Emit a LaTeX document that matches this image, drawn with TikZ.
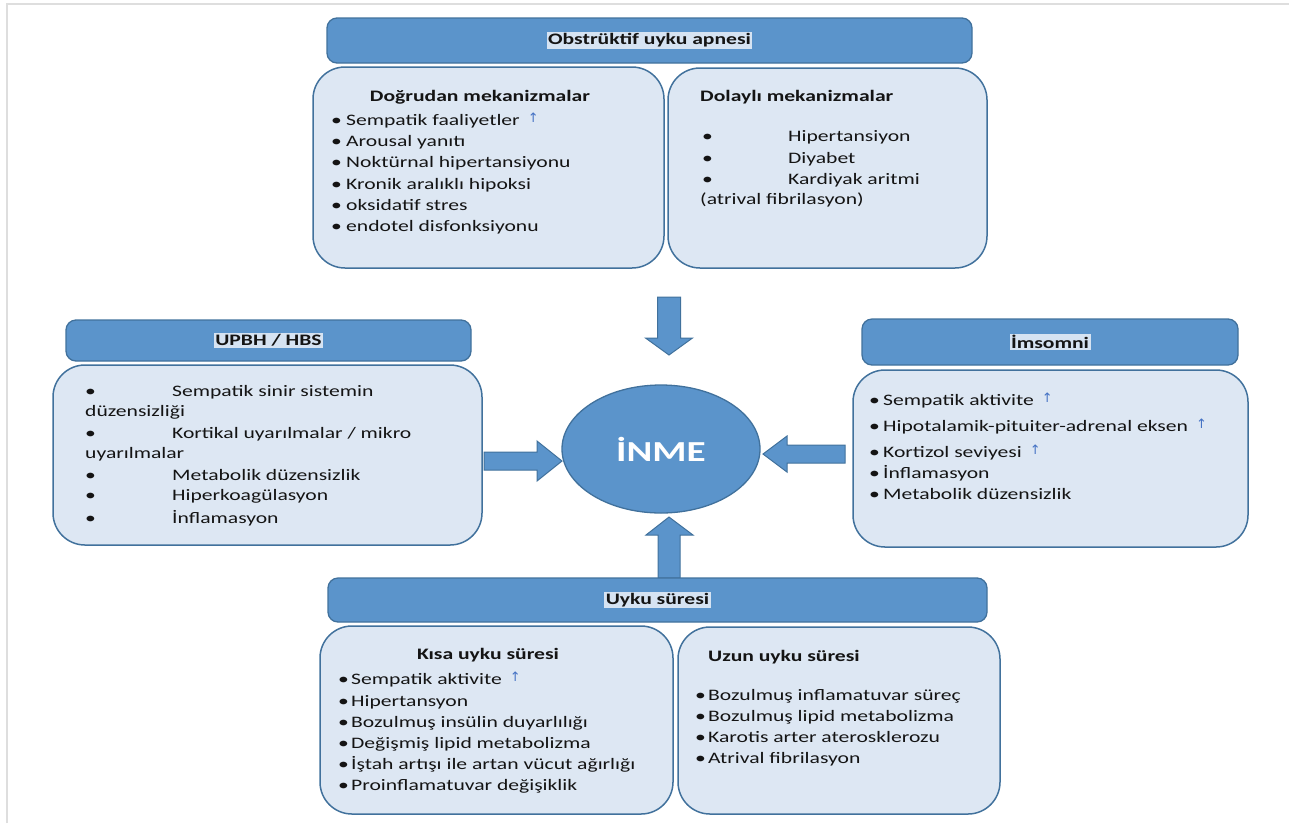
\documentclass[tikz,border=0pt]{standalone}
\usepackage{fontspec}
\setmainfont[FakeStretch=1.35]{Carlito}
\newfontfamily\symfont{DejaVu Sans}
\usetikzlibrary{shapes.geometric,fit}
\definecolor{hdrblue}{RGB}{91,148,203}
\definecolor{edgeblue}{RGB}{65,113,156}
\definecolor{bodyfill}{RGB}{221,231,243}
\definecolor{hlfill}{RGB}{214,227,242}
\definecolor{uparrowc}{RGB}{68,114,196}
\definecolor{pageline}{RGB}{222,222,222}
\definecolor{txt}{RGB}{20,20,20}
\newcommand\uparr{\hspace{8pt}\raisebox{3pt}{\symfont\fontsize{13}{13}\selectfont\color{uparrowc}↑}}
\newcommand\itm[5]{\node[item] (#1) at (#2,#3) {\makebox[#4pt][l]{\textbullet}#5};}
\tikzset{
  hdr/.style={draw=edgeblue, line width=1.3pt, fill=hdrblue, rounded corners=10pt, inner sep=0pt},
  bodybox/.style={draw=edgeblue, line width=1.5pt, fill=bodyfill, rounded corners=32pt, inner sep=0pt},
  item/.style={anchor=base west, inner sep=0pt, font=\fontsize{16}{19}\selectfont, text=txt},
  plain/.style={anchor=base west, inner sep=0pt, font=\fontsize{16}{19}\selectfont, text=txt},
  ttl/.style={anchor=base, inner sep=0pt, font=\fontsize{16}{19}\selectfont\bfseries, text=txt},
  ttlw/.style={anchor=base west, inner sep=0pt, font=\fontsize{16}{19}\selectfont\bfseries, text=txt},
  hdrtext/.style={fill=hlfill, inner sep=1.5pt, font=\fontsize{16}{19}\selectfont\bfseries, text=txt},
  blockarrow/.style={fill=hdrblue, draw=edgeblue, line width=1pt, line join=miter},
}
\begin{document}
\begin{tikzpicture}[x=1pt,y=-1pt]
\useasboundingbox (0,0) rectangle (1289,823);
\draw[pageline, line width=1.5pt] (7,823) -- (7,4) -- (1289,4);

% central node
\node[ellipse, fill=hdrblue, draw=edgeblue, line width=1.3pt, minimum width=198pt, minimum height=128pt, inner sep=0pt,
      text=white, font=\fontsize{29}{30}\selectfont\bfseries] (inme) at (661,449) {İNME};

% block arrows
\draw[blockarrow] (657.5,297) -- (680.5,297) -- (680.5,338) -- (692.5,338) -- (669,355) -- (645.5,338) -- (657.5,338) -- cycle;
\draw[blockarrow] (658,578) -- (680,578) -- (680,535) -- (693,535) -- (669,517) -- (646,535) -- (658,535) -- cycle;
\draw[blockarrow] (484,452) -- (537,452) -- (537,441) -- (562,461) -- (537,481) -- (537,470) -- (484,470) -- cycle;
\draw[blockarrow] (845,445) -- (787,445) -- (787,436) -- (763,454) -- (787,472) -- (787,463) -- (845,463) -- cycle;

% Obstruktif uyku apnesi
\node[hdr, fit={(327,18) (972,63)}] (oua) {};
\node[hdrtext] (ouat) at (oua.center) {Obstrüktif uyku apnesi};
\node[bodybox, fit={(313,67) (664,268)}] (dm) {};
\node[bodybox, fit={(668,68) (987,268)}] (im) {};
\node[ttl] (dmt) at (480,101) {Doğrudan mekanizmalar};
\itm{d1}{331}{125}{15}{Sempatik faaliyetler\uparr}
\itm{d2}{331}{146}{15}{Arousal yanıtı}
\itm{d3}{331}{167}{15}{Noktürnal hipertansiyonu}
\itm{d4}{331}{189}{15}{Kronik aralıklı hipoksi}
\itm{d5}{331}{210}{15}{oksidatif stres}
\itm{d6}{331}{231}{15}{endotel disfonksiyonu}
\node[ttlw] (imt) at (700,101) {Dolaylı mekanizmalar};
\itm{i1}{702}{141}{86}{Hipertansiyon}
\itm{i2}{702}{163}{86}{Diyabet}
\itm{i3}{702}{184}{86}{Kardiyak aritmi}
\node[plain] (i3b) at (700,204) {(atrival fibrilasyon)};

% UPBH / HBS
\node[hdr, fit={(66,320) (471,361)}] (up) {};
\node[hdrtext] (upt) at (up.center) {UPBH / HBS};
\node[bodybox, fit={(53,365) (482,545)}] (upb) {};
\itm{u1}{85}{396}{87}{Sempatik sinir sistemin}
\node[plain] (u1b) at (85,416) {düzensizliği};
\itm{u2}{85}{438}{87}{Kortikal uyarılmalar / mikro}
\node[plain] (u2b) at (85,458) {uyarılmalar};
\itm{u3}{85}{480}{87}{Metabolik düzensizlik}
\itm{u4}{85}{500}{87}{Hiperkoagülasyon}
\itm{u5}{85}{523}{87}{İnflamasyon}

% Imsomni
\node[hdr, fit={(862,319) (1238,365)}] (ins) {};
\node[hdrtext] (inst) at (ins.center) {İmsomni};
\node[bodybox, fit={(853,370) (1248,547)}] (insb) {};
\itm{s1}{869}{405}{14}{Sempatik aktivite\uparr}
\itm{s2}{869}{431}{14}{Hipotalamik-pituiter-adrenal eksen\uparr}
\itm{s3}{869}{457}{14}{Kortizol seviyesi\uparr}
\itm{s4}{869}{478}{14}{İnflamasyon}
\itm{s5}{869}{499}{14}{Metabolik düzensizlik}

% Uyku suresi
\node[hdr, fit={(328,578) (987,622)}] (us) {};
\node[hdrtext] (ust) at (us.center) {Uyku süresi};
\node[bodybox, fit={(320,626) (673,814)}] (ks) {};
\node[bodybox, fit={(678,627) (1000,814)}] (uz) {};
\node[ttl] (kst) at (488,659) {Kısa uyku süresi};
\itm{k1}{338}{684}{13}{Sempatik aktivite\uparr}
\itm{k2}{338}{706}{13}{Hipertansyon}
\itm{k3}{338}{727}{13}{Bozulmuş insülin duyarlılığı}
\itm{k4}{338}{748}{13}{Değişmiş lipid metabolizma}
\itm{k5}{338}{769}{13}{İştah artışı ile artan vücut ağırlığı}
\itm{k6}{338}{790}{13}{Proinflamatuvar değişiklik}
\node[ttlw] (uzt) at (708,661) {Uzun uyku süresi};
\itm{z1}{695}{700}{13}{Bozulmuş inflamatuvar süreç}
\itm{z2}{695}{721}{13}{Bozulmuş lipid metabolizma}
\itm{z3}{695}{742}{13}{Karotis arter aterosklerozu}
\itm{z4}{695}{763}{13}{Atrival fibrilasyon}
\end{tikzpicture}
\end{document}
